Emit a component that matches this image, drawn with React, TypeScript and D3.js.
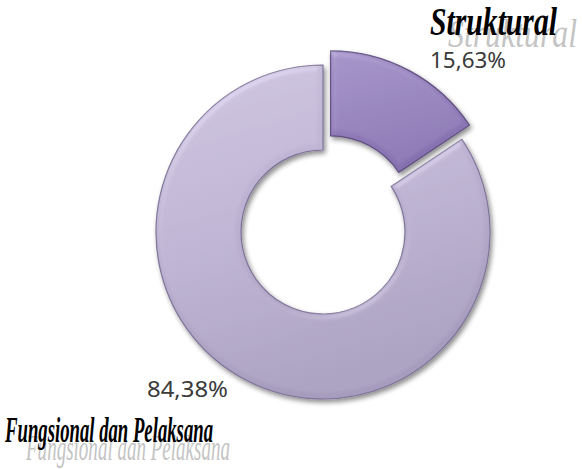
import React from "react";
import * as d3 from "d3";

const categories = ["Struktural", "Fungsional dan Pelaksana"];
const values = [15.63, 84.38];
const valueLabels = ["15,63%", "84,38%"];
const explode = [16, 0];

const W = 582;
const H = 469;
const cx = 323;
const cy = 232;
const outerR = 167;
const innerR = 82;

export default function App() {
  const pie = d3.pie<number>().sort(null).startAngle(0).endAngle(2 * Math.PI);
  const arcs = pie(values);
  const arcGen = d3.arc<d3.PieArcDatum<number>>().innerRadius(innerR).outerRadius(outerR);

  const fills = ["url(#gStruk)", "url(#gFung)"];
  const strokes = ["#5f4e80", "#7e7398"];

  return (
    <svg
      width={W}
      height={H}
      style={{ position: "absolute", left: 0, top: 0, background: "#fff" }}
      xmlns="http://www.w3.org/2000/svg"
    >
      <defs>
        <linearGradient id="gFung" x1="0" y1="0" x2="0.3" y2="1">
          <stop offset="0" stopColor="#cac1dd" />
          <stop offset="0.5" stopColor="#bbb0d0" />
          <stop offset="1" stopColor="#a69cbd" />
        </linearGradient>
        <linearGradient id="gStruk" x1="0" y1="0" x2="0.3" y2="1">
          <stop offset="0" stopColor="#9f8cc4" />
          <stop offset="1" stopColor="#8670b0" />
        </linearGradient>
        <filter id="bevel" x="-10%" y="-10%" width="125%" height="125%">
          <feGaussianBlur in="SourceAlpha" stdDeviation="3" result="blur" />
          <feSpecularLighting in="blur" surfaceScale="3" specularConstant="0.5" specularExponent="18" lightingColor="#ffffff" result="spec">
            <fePointLight x="-3000" y="-5000" z="6000" />
          </feSpecularLighting>
          <feComposite in="spec" in2="SourceAlpha" operator="in" result="specIn" />
          <feComposite in="SourceGraphic" in2="specIn" operator="arithmetic" k1="0" k2="1" k3="0.3" k4="0" result="lit" />
          <feGaussianBlur in="SourceAlpha" stdDeviation="2.5" result="sb" />
          <feOffset in="sb" dx="2" dy="3" result="so" />
          <feComponentTransfer in="so" result="shadow">
            <feFuncA type="linear" slope="0.45" />
          </feComponentTransfer>
          <feMerge>
            <feMergeNode in="shadow" />
            <feMergeNode in="lit" />
          </feMerge>
        </filter>
      </defs>

      <g transform={`translate(${cx},${cy})`}>
        {arcs.map((a, i) => {
          const mid = (a.startAngle + a.endAngle) / 2;
          const dx = Math.sin(mid) * explode[i];
          const dy = -Math.cos(mid) * explode[i];
          return (
            <path
              key={categories[i]}
              d={arcGen(a) || ""}
              transform={`translate(${dx},${dy})`}
              fill={fills[i]}
              stroke={strokes[i]}
              strokeWidth={1.2}
              filter="url(#bevel)"
            />
          );
        })}
      </g>

      {/* Struktural label */}
      <text
        x={448}
        y={47}
        fontFamily="'Liberation Serif', serif"
        fontStyle="italic"
        fontSize={40}
        fill="#c4c4c4"
        textLength={129}
        lengthAdjust="spacingAndGlyphs"
      >
        {categories[0]}
      </text>
      <text
        x={430}
        y={35}
        fontFamily="'Liberation Serif', serif"
        fontStyle="italic"
        fontWeight="bold"
        fontSize={40}
        fill="#000"
        textLength={127}
        lengthAdjust="spacingAndGlyphs"
      >
        {categories[0]}
      </text>
      <text
        x={430}
        y={68}
        fontFamily="'Noto Sans', sans-serif"
        fontSize={21}
        fill="#3a3a3a"
        textLength={76}
        lengthAdjust="spacingAndGlyphs"
      >
        {valueLabels[0]}
      </text>

      {/* Fungsional label */}
      <text
        x={147}
        y={397}
        fontFamily="'Noto Sans', sans-serif"
        fontSize={21}
        fill="#3a3a3a"
        textLength={81}
        lengthAdjust="spacingAndGlyphs"
      >
        {valueLabels[1]}
      </text>
      <text
        x={26}
        y={460}
        fontFamily="'Liberation Serif', serif"
        fontStyle="italic"
        fontSize={35}
        fill="#c4c4c4"
        textLength={204}
        lengthAdjust="spacingAndGlyphs"
      >
        {categories[1]}
      </text>
      <text
        x={5}
        y={442}
        fontFamily="'Liberation Serif', serif"
        fontStyle="italic"
        fontWeight="bold"
        fontSize={35}
        fill="#000"
        textLength={208}
        lengthAdjust="spacingAndGlyphs"
      >
        {categories[1]}
      </text>
    </svg>
  );
}
